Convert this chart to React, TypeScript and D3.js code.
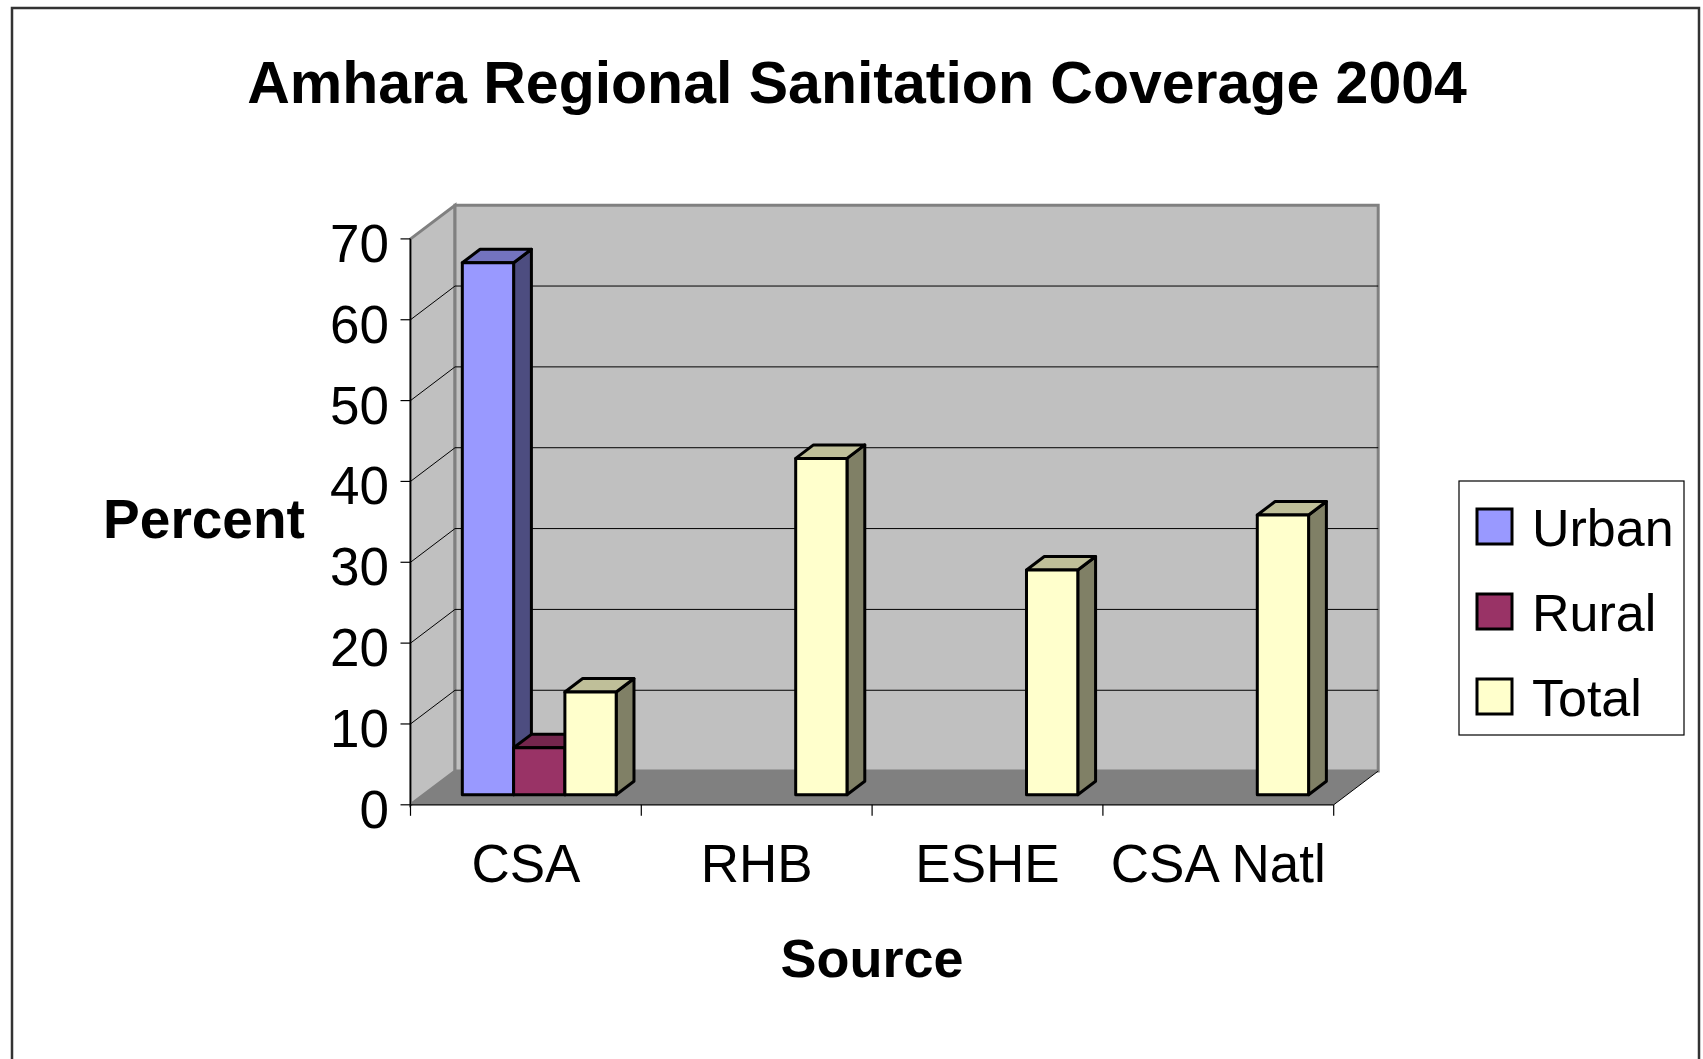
import React from "react";
import * as d3 from "d3";

const categories = ["CSA", "RHB", "ESHE", "CSA Natl"];
const seriesNames = ["Urban", "Rural", "Total"];
const urbanValues: (number | null)[] = [65.8, null, null, null];
const ruralValues: (number | null)[] = [5.8, null, null, null];
const totalValues: (number | null)[] = [12.7, 41.6, 27.8, 34.6];
const yTicks = [0, 10, 20, 30, 40, 50, 60, 70];

const seriesColors = {
  Urban: { front: "#9999FF", top: "#7373BF", side: "#4D4D80" },
  Rural: { front: "#993366", top: "#73264D", side: "#4D1A33" },
  Total: { front: "#FFFFCC", top: "#BFBF99", side: "#808066" },
};

const W = 1703;
const H = 1059;
const FONT = "'Liberation Sans', Arial, sans-serif";

// plot geometry (front plane)
const X0 = 410.5;
const X1 = 1333.7;
const Y0 = 804.8;
const YTOP = 238.9;
const DX = 44.5;
const DY = 33.7;
const F_FRONT = 0.3;
const F_BACK = 0.7;

export default function App() {
  const x = d3.scaleBand<string>().domain(categories).range([X0, X1]).padding(0);
  const xs = d3
    .scaleBand<string>()
    .domain(seriesNames)
    .range([0, x.bandwidth()])
    .paddingInner(0)
    .paddingOuter(0.75);
  const y = d3.scaleLinear().domain([0, 70]).range([Y0, YTOP]);

  const pt = (px: number, py: number, f: number) => [px + f * DX, py - f * DY];
  const poly = (pts: number[][]) => pts.map((p) => p.join(",")).join(" ");

  const seriesData: { name: string; values: (number | null)[] }[] = [
    { name: "Urban", values: urbanValues },
    { name: "Rural", values: ruralValues },
    { name: "Total", values: totalValues },
  ];

  const bars: React.ReactNode[] = [];
  categories.forEach((cat, ci) => {
    seriesData.forEach((s) => {
      const v = s.values[ci];
      if (v == null) return;
      const c = (seriesColors as any)[s.name];
      const xl = (x(cat) as number) + (xs(s.name) as number);
      const xr = xl + xs.bandwidth();
      const yb = y(0);
      const yt = y(v);
      const fbl = pt(xl, yb, F_FRONT);
      const fbr = pt(xr, yb, F_FRONT);
      const ftl = pt(xl, yt, F_FRONT);
      const ftr = pt(xr, yt, F_FRONT);
      const btl = pt(xl, yt, F_BACK);
      const btr = pt(xr, yt, F_BACK);
      const bbr = pt(xr, yb, F_BACK);
      bars.push(
        <g key={cat + s.name} stroke="#000" strokeWidth={3} strokeLinejoin="round">
          <polygon points={poly([fbr, ftr, btr, bbr])} fill={c.side} />
          <polygon points={poly([ftl, ftr, btr, btl])} fill={c.top} />
          <polygon points={poly([fbl, fbr, ftr, ftl])} fill={c.front} />
        </g>
      );
    });
  });

  const backWall = poly([
    pt(X0, Y0, 1),
    pt(X0, YTOP, 1),
    pt(X1, YTOP, 1),
    pt(X1, Y0, 1),
  ]);
  const leftWall = poly([pt(X0, Y0, 0), pt(X0, YTOP, 0), pt(X0, YTOP, 1), pt(X0, Y0, 1)]);
  const floor = poly([pt(X0, Y0, 0), pt(X1, Y0, 0), pt(X1, Y0, 1), pt(X0, Y0, 1)]);

  const catEdges = [...categories.map((c) => x(c) as number), X1];

  return (
    <svg
      width={W}
      height={H}
      style={{ position: "absolute", left: 0, top: 0, background: "#fff" }}
      fontFamily={FONT}
    >
      <rect x={0} y={0} width={W} height={H} fill="#fff" />
      <rect x={12} y={8} width={1687} height={1080} fill="#fff" stroke="#333" strokeWidth={2.5} />

      <text x={857} y={103} textAnchor="middle" fontSize={59} fontWeight="bold">
        Amhara Regional Sanitation Coverage 2004
      </text>

      {/* walls and floor */}
      <polygon points={leftWall} fill="#C0C0C0" stroke="#808080" strokeWidth={3} />
      <polygon points={backWall} fill="#C0C0C0" stroke="#808080" strokeWidth={3} />
      <polygon points={floor} fill="#808080" />

      {/* gridlines */}
      {yTicks
        .filter((t) => t > 0 && t < 70)
        .map((t) => {
          const a = pt(X0, y(t), 0);
          const b = pt(X0, y(t), 1);
          const c = pt(X1, y(t), 1);
          return (
            <g key={"g" + t} stroke="#000" strokeWidth={1}>
              <line x1={a[0]} y1={a[1]} x2={b[0]} y2={b[1]} />
              <line x1={b[0]} y1={b[1]} x2={c[0]} y2={c[1]} />
            </g>
          );
        })}

      {/* floor right edge */}
      {(() => {
        const a = pt(X1, Y0, 0);
        const b = pt(X1, Y0, 1);
        return <line x1={a[0]} y1={a[1]} x2={b[0]} y2={b[1]} stroke="#000" strokeWidth={1} />;
      })()}

      {/* axes */}
      <line x1={X0} y1={YTOP} x2={X0} y2={Y0} stroke="#000" strokeWidth={1.2} />
      <line x1={X0} y1={Y0} x2={X1} y2={Y0} stroke="#000" strokeWidth={1.2} />
      {yTicks.map((t) => (
        <g key={"yt" + t}>
          <line x1={X0 - 10} y1={y(t)} x2={X0} y2={y(t)} stroke="#000" strokeWidth={1.2} />
          <text x={389} y={y(t) + 23} textAnchor="end" fontSize={53}>
            {t}
          </text>
        </g>
      ))}
      {catEdges.map((e, i) => (
        <line key={"ct" + i} x1={e} y1={Y0} x2={e} y2={Y0 + 11} stroke="#000" strokeWidth={1.2} />
      ))}
      {categories.map((c) => (
        <text
          key={"cl" + c}
          x={(x(c) as number) + x.bandwidth() / 2}
          y={882}
          textAnchor="middle"
          fontSize={53}
        >
          {c}
        </text>
      ))}

      {bars}

      <text x={204} y={538} textAnchor="middle" fontSize={55} fontWeight="bold">
        Percent
      </text>
      <text x={872} y={977} textAnchor="middle" fontSize={54} fontWeight="bold">
        Source
      </text>

      {/* legend */}
      <rect x={1459} y={481} width={225} height={254} fill="#fff" stroke="#000" strokeWidth={1.2} />
      {seriesNames.map((n, i) => {
        const cy = 526 + i * 85;
        return (
          <g key={"lg" + n}>
            <rect
              x={1477}
              y={cy - 17}
              width={35}
              height={35}
              fill={(seriesColors as any)[n].front}
              stroke="#000"
              strokeWidth={3}
            />
            <text x={1532} y={cy + 20} fontSize={52}>
              {n}
            </text>
          </g>
        );
      })}
    </svg>
  );
}
